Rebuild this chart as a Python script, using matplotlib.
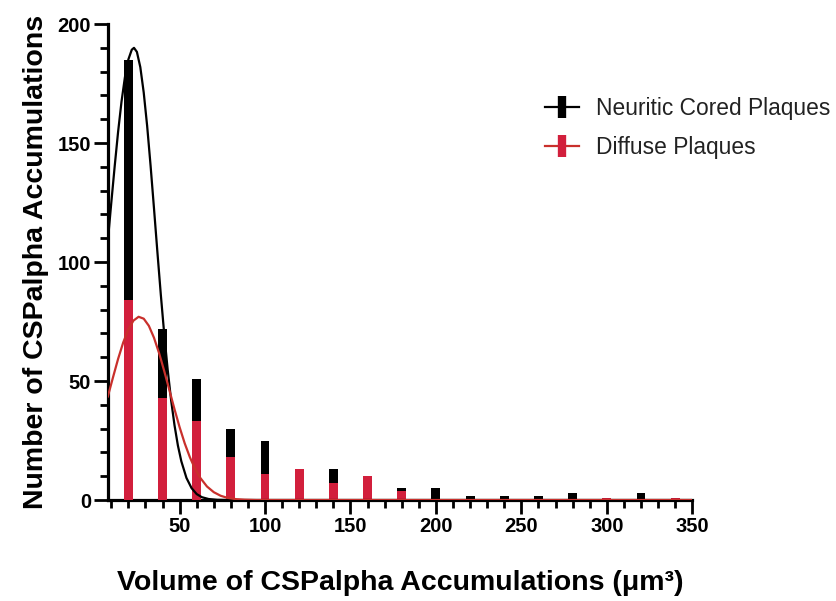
import matplotlib.pyplot as plt
from matplotlib.lines import Line2D
from matplotlib.ticker import MultipleLocator
import numpy as np

plt.rcParams['font.family'] = ['Liberation Sans', 'DejaVu Sans']

# ---- data ----
bin_centers = [20, 40, 60, 80, 100, 120, 140, 160, 180, 200, 220, 240, 260, 280, 300, 320, 340]
neuritic = [185, 72, 51, 30, 25, 12, 13, 9, 5, 5, 1.5, 1.5, 1.5, 3, 0, 3, 0]
diffuse = [84, 43, 33, 18, 11, 13, 7, 10, 4, 0, 0, 0, 0, 0, 0.7, 0, 0.7]

# fitted curves
fit_x_neu = [8, 10, 12, 14, 16, 18, 20, 22, 23.3, 25, 27, 29, 31, 33, 35, 37, 39, 41, 43, 45,
             47, 49, 51, 54, 57, 60, 63, 67, 72, 80, 350]
fit_y_neu = [108.9, 124.8, 140.2, 154.7, 167.4, 177.7, 185.1, 189.2, 190.0, 188.3, 181.9, 171.2,
             157.2, 140.6, 122.6, 104.2, 86.3, 69.7, 54.9, 42.1, 31.5, 22.9, 16.3, 9.3, 5.0, 2.5,
             1.2, 0.42, 0.1, 0, 0]
fit_x_dif = [8, 11, 14, 17, 20, 23, 26, 29, 32, 35, 38, 41, 44, 47, 50, 53, 56, 59, 62, 66,
             70, 74, 78, 83, 88, 95, 350]
fit_y_dif = [43.5, 51.5, 59.3, 66.2, 71.7, 75.4, 77.0, 76.2, 73.2, 68.2, 61.7, 54.2, 46.2, 38.2,
             30.6, 23.8, 18.0, 13.2, 9.4, 5.7, 3.3, 1.8, 0.92, 0.37, 0.14, 0, 0]

bar_black = "#000000"
bar_red = "#d21f3c"
curve_red = "#c9302c"

fig = plt.figure(figsize=(8.36, 6.01), dpi=100)
ax = fig.add_axes([0.129, 0.168, 0.699, 0.792])

ax.bar(bin_centers, neuritic, width=5.2, color=bar_black, zorder=2)
ax.bar(bin_centers, diffuse, width=5.2, color=bar_red, zorder=3)
ax.plot(fit_x_neu, fit_y_neu, color="black", lw=1.6, zorder=4)
ax.plot(fit_x_dif, fit_y_dif, color=curve_red, lw=1.6, zorder=4)

ax.set_xlim(8, 350)
ax.set_ylim(0, 200)
ax.xaxis.set_major_locator(MultipleLocator(50))
ax.xaxis.set_minor_locator(MultipleLocator(10))
ax.yaxis.set_major_locator(MultipleLocator(50))
ax.yaxis.set_minor_locator(MultipleLocator(10))

for s in ['top', 'right']:
    ax.spines[s].set_visible(False)
for s in ['left', 'bottom']:
    ax.spines[s].set_linewidth(2.3)
ax.tick_params(which='major', length=10, width=2.0, labelsize=14.5, pad=2)
ax.tick_params(which='minor', length=5.5, width=2.0)
for lab in ax.get_xticklabels() + ax.get_yticklabels():
    lab.set_fontweight('bold')

ax.set_ylabel("Number of CSPalpha Accumulations", fontsize=20.5, fontweight='bold', labelpad=6)
ax.set_xlabel("Volume of CSPalpha Accumulations (\u03bcm\u00b3)",
              fontsize=20.5, fontweight='bold', labelpad=25)

h1 = Line2D([0], [0], color="black", lw=1.6, marker='|', markersize=16, markeredgewidth=6)
h2 = Line2D([0], [0], color=curve_red, lw=1.6, marker='|', markersize=16, markeredgewidth=6,
            markeredgecolor=bar_red)
leg = ax.legend([h1, h2], ["Neuritic Cored Plaques", "Diffuse Plaques"],
                loc='upper left', bbox_to_anchor=(0.713, 0.89), frameon=False,
                fontsize=16.4, handlelength=1.5, labelspacing=0.7, handletextpad=0.75)
for t in leg.get_texts():
    t.set_color("#222222")

fig.savefig("out.png", dpi=100)
